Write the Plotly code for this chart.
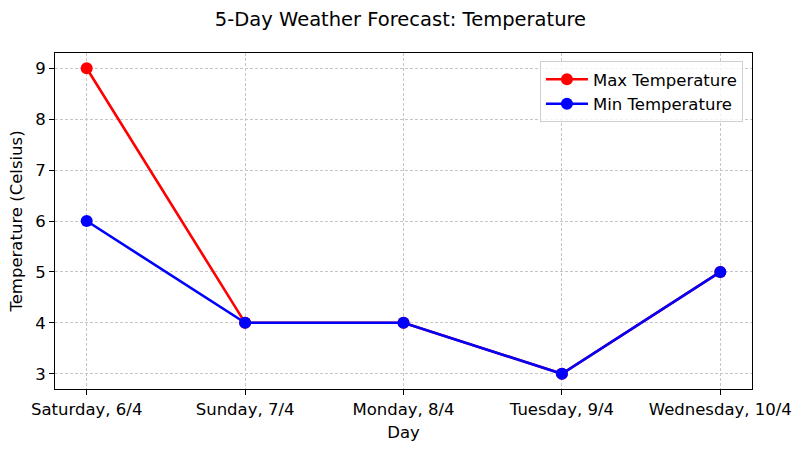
import plotly.graph_objects as go

days = ["Saturday, 6/4", "Sunday, 7/4", "Monday, 8/4", "Tuesday, 9/4", "Wednesday, 10/4"]
max_temp = [9, 4, 4, 3, 5]
min_temp = [6, 4, 4, 3, 5]
y_ticks = [3, 4, 5, 6, 7, 8, 9]

FONT = "DejaVu Sans"
fig = go.Figure()
fig.add_trace(go.Scatter(x=list(range(len(days))), y=max_temp, mode="lines+markers",
                         name="Max Temperature", line=dict(color="#ff0000", width=2.6),
                         marker=dict(size=12, color="#ff0000")))
fig.add_trace(go.Scatter(x=list(range(len(days))), y=min_temp, mode="lines+markers",
                         name="Min Temperature", line=dict(color="#0000ff", width=2.6),
                         marker=dict(size=12, color="#0000ff")))

axis_common = dict(showline=True, linecolor="black", linewidth=1, mirror=True,
                   ticks="outside", ticklen=5, tickcolor="black", tickwidth=1,
                   showgrid=True, gridcolor="#c6c6c6", gridwidth=0.6, griddash="3px,2px",
                   zeroline=False, automargin=False,
                   tickfont=dict(size=16.5, color="black", family=FONT))

fig.update_xaxes(range=[-0.2, 4.2], tickvals=list(range(len(days))), ticktext=days,
                 title=dict(text="Day", font=dict(size=16.5, color="black", family=FONT), standoff=8),
                 **axis_common)
fig.update_yaxes(range=[2.7, 9.3], tickvals=y_ticks,
                 title=dict(text="Temperature (Celsius)", font=dict(size=16.5, color="black", family=FONT), standoff=8),
                 **axis_common)

fig.update_layout(
    width=801, height=450,
    margin=dict(l=55, r=49, t=53, b=61),
    paper_bgcolor="white", plot_bgcolor="white",
    font=dict(family=FONT, color="black"),
    title=dict(text="5-Day Weather Forecast: Temperature", x=0.5, xanchor="center",
               y=0.957, yanchor="middle", font=dict(size=19.5, color="black", family=FONT)),
    legend=dict(x=0.987, y=0.976, xanchor="right", yanchor="top", itemwidth=42,
                bgcolor="rgba(255,255,255,0.8)", bordercolor="#d0d0d0", borderwidth=1,
                font=dict(size=16.5, color="black", family=FONT)),
    showlegend=True,
)

fig.write_html("out.html", config={"displayModeBar": False},
               post_script="document.body.style.margin='0';")
